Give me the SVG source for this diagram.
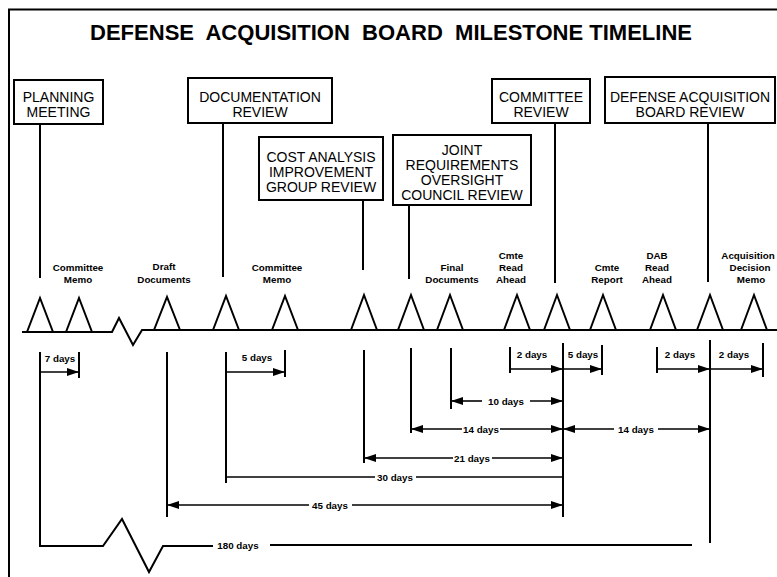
<svg xmlns="http://www.w3.org/2000/svg" width="777" height="577" viewBox="0 0 777 577">
<style>
  .bg{fill:#fff}
  .frame{fill:none;stroke:#000;stroke-width:2}
  .box rect{fill:#fff;stroke:#000;stroke-width:2}
  .box text{font-family:"Liberation Sans",Arial,sans-serif;font-size:14px;text-anchor:middle;fill:#000}
  .title{font-family:"Liberation Sans",Arial,sans-serif;font-size:21.5px;font-weight:bold;text-anchor:middle;fill:#000}
  .lbl{font-family:"Liberation Sans",Arial,sans-serif;font-size:9.8px;font-weight:bold;text-anchor:middle;fill:#000}
  .ln{fill:none;stroke:#000;stroke-width:2}
  .dim{fill:none;stroke:#000;stroke-width:1.6}
  .day{font-family:"Liberation Sans",Arial,sans-serif;font-size:9.8px;font-weight:bold;text-anchor:middle;fill:#000}
</style>
<defs>
  <marker id="ah" markerUnits="userSpaceOnUse" markerWidth="12" markerHeight="8" refX="12" refY="4" orient="auto-start-reverse">
    <path d="M0,0 L12,4 L0,8 z" fill="#000"/>
  </marker>
</defs>
<rect class="bg" x="0" y="0" width="777" height="577"/>
<path class="frame" d="M9,577 V9.5 H777"/>
<text class="title" x="391" y="40" textLength="602" lengthAdjust="spacingAndGlyphs" xml:space="preserve">DEFENSE  ACQUISITION  BOARD  MILESTONE TIMELINE</text>

<g id="n-planning" class="box">
  <rect x="14" y="80" width="89" height="44"/>
  <text x="58.5" y="102">PLANNING</text>
  <text x="58.5" y="117">MEETING</text>
</g>
<g id="n-documentation" class="box">
  <rect x="188" y="78" width="144" height="45"/>
  <text x="260" y="102">DOCUMENTATION</text>
  <text x="260" y="117">REVIEW</text>
</g>
<g id="n-cost" class="box">
  <rect x="259" y="137" width="124" height="63"/>
  <text x="321" y="162">COST ANALYSIS</text>
  <text x="321" y="177">IMPROVEMENT</text>
  <text x="321" y="192">GROUP REVIEW</text>
</g>
<g id="n-joint" class="box">
  <rect x="393" y="135" width="138" height="70"/>
  <text x="462" y="155">JOINT</text>
  <text x="462" y="170">REQUIREMENTS</text>
  <text x="462" y="185">OVERSIGHT</text>
  <text x="462" y="200">COUNCIL REVIEW</text>
</g>
<g id="n-committee" class="box">
  <rect x="492" y="79" width="98" height="44"/>
  <text x="541" y="102">COMMITTEE</text>
  <text x="541" y="117">REVIEW</text>
</g>
<g id="n-dab" class="box">
  <rect x="605" y="77" width="170" height="46"/>
  <text x="690" y="102">DEFENSE ACQUISITION</text>
  <text x="690" y="117">BOARD REVIEW</text>
</g>

<g id="event-labels">
  <text class="lbl" x="78" y="271">Committee</text>
  <text class="lbl" x="78" y="283">Memo</text>
  <text class="lbl" x="164" y="270">Draft</text>
  <text class="lbl" x="164" y="283">Documents</text>
  <text class="lbl" x="277" y="271">Committee</text>
  <text class="lbl" x="277" y="283">Memo</text>
  <text class="lbl" x="452" y="271">Final</text>
  <text class="lbl" x="452" y="283">Documents</text>
  <text class="lbl" x="511" y="259">Cmte</text>
  <text class="lbl" x="511" y="271">Read</text>
  <text class="lbl" x="511" y="283">Ahead</text>
  <text class="lbl" x="607" y="271">Cmte</text>
  <text class="lbl" x="607" y="283">Report</text>
  <text class="lbl" x="657" y="259">DAB</text>
  <text class="lbl" x="657" y="271">Read</text>
  <text class="lbl" x="657" y="283">Ahead</text>
  <text class="lbl" x="748" y="259">Acquisition</text>
  <text class="lbl" x="750" y="271">Decision</text>
  <text class="lbl" x="751" y="283">Memo</text>
</g>

<g id="connectors">
  <!-- box drop lines -->
  <path class="ln" d="M40,124 V278"/>
  <path class="ln" d="M223,123 V277"/>
  <path class="ln" d="M363,200 V270"/>
  <path class="ln" d="M409,205 V279"/>
  <path class="ln" d="M555,123 V283"/>
  <path class="ln" d="M708,123 V282"/>

  <!-- timeline baseline with break -->
  <path class="ln" d="M22,332 H112 L119,318 L133,345 L142,330 H777"/>
  <!-- milestone triangles -->
  <path class="ln" d="M27,332 L40,298 L53,332"/>
  <path class="ln" d="M66,332 L79,298 L92,332"/>
  <path class="ln" d="M154,330 L167,297 L180,330"/>
  <path class="ln" d="M213,330 L226,296 L239,330"/>
  <path class="ln" d="M272,330 L285,296 L298,330"/>
  <path class="ln" d="M351,330 L364,295 L377,330"/>
  <path class="ln" d="M398,330 L411,295 L424,330"/>
  <path class="ln" d="M437,330 L450,295 L463,330"/>
  <path class="ln" d="M504,330 L517,295 L530,330"/>
  <path class="ln" d="M544,330 L557,295 L570,330"/>
  <path class="ln" d="M590,330 L603,295 L616,330"/>
  <path class="ln" d="M650,330 L663,295 L676,330"/>
  <path class="ln" d="M697,330 L710,295 L723,330"/>
  <path class="ln" d="M741,330 L754,295 L767,330"/>

  <!-- lower verticals -->
  <path class="ln" d="M40,352 V546 H103 L122,519 L149,572 L163,546 H213"/>
  <path class="ln" d="M270,545 H692"/>
  <path class="ln" d="M79,352 V378"/>
  <path class="ln" d="M167,352 V517"/>
  <path class="ln" d="M226,352 V483"/>
  <path class="ln" d="M285,350 V377"/>
  <path class="ln" d="M364,350 V463"/>
  <path class="ln" d="M411,348 V433"/>
  <path class="ln" d="M451,348 V409"/>
  <path class="ln" d="M510,347 V373"/>
  <path class="ln" d="M563,343 V517"/>
  <path class="ln" d="M602,345 V375"/>
  <path class="ln" d="M657,347 V373"/>
  <path class="ln" d="M710,340 V543"/>
  <path class="ln" d="M763,343 V377"/>

  <!-- dimension arrows -->
  <path class="dim" d="M40,372 H79" marker-end="url(#ah)"/>
  <path class="dim" d="M226,372 H285" marker-end="url(#ah)"/>
  <path class="dim" d="M510,369 H563" marker-end="url(#ah)"/>
  <path class="dim" d="M563,369 H602" marker-end="url(#ah)"/>
  <path class="dim" d="M657,369 H710" marker-end="url(#ah)"/>
  <path class="dim" d="M710,369 H763" marker-end="url(#ah)"/>

  <path class="dim" d="M482,401 H451" marker-end="url(#ah)"/>
  <path class="dim" d="M530,401 H563" marker-end="url(#ah)"/>

  <path class="dim" d="M462,429 H411" marker-end="url(#ah)"/>
  <path class="dim" d="M500,429 H563" marker-end="url(#ah)"/>
  <path class="dim" d="M614,429 H563" marker-end="url(#ah)"/>
  <path class="dim" d="M658,429 H710" marker-end="url(#ah)"/>

  <path class="dim" d="M453,458 H364" marker-end="url(#ah)"/>
  <path class="dim" d="M492,458 H563" marker-end="url(#ah)"/>

  <path class="dim" d="M226,477 H375"/>
  <path class="dim" d="M416,477 H563"/>

  <path class="dim" d="M309,505 H167" marker-end="url(#ah)"/>
  <path class="dim" d="M352,505 H563" marker-end="url(#ah)"/>
</g>

<g id="day-labels">
  <text class="day" x="60" y="362">7 days</text>
  <text class="day" x="257" y="361">5 days</text>
  <text class="day" x="532" y="358">2 days</text>
  <text class="day" x="583" y="358">5 days</text>
  <text class="day" x="680" y="358">2 days</text>
  <text class="day" x="734" y="358">2 days</text>
  <text class="day" x="506" y="404.5">10 days</text>
  <text class="day" x="481" y="432.5">14 days</text>
  <text class="day" x="636" y="432.5">14 days</text>
  <text class="day" x="472" y="461.5">21 days</text>
  <text class="day" x="395" y="480.5">30 days</text>
  <text class="day" x="330" y="508.5">45 days</text>
  <text class="day" x="238" y="548.5">180 days</text>
</g>
</svg>
